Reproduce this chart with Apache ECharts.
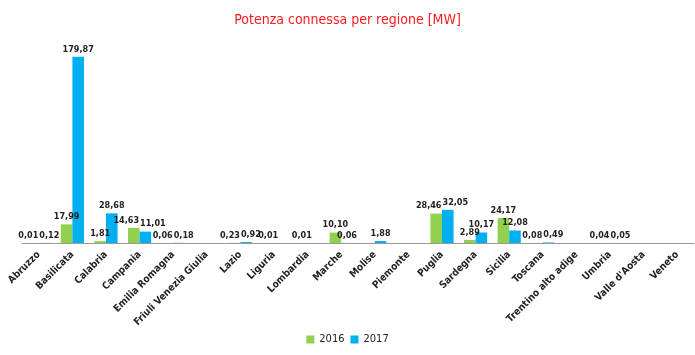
<!DOCTYPE html>
<html><head><meta charset="utf-8">
<script src="https://cdn.jsdelivr.net/npm/echarts@6/dist/echarts.min.js"></script>
<style>html,body{margin:0;padding:0;background:#fff}#c{width:695px;height:355px}</style>
</head><body><div id="c"></div>
<script>
var categories = ["Abruzzo","Basilicata","Calabria","Campania","Emilia Romagna","Friuli Venezia Giulia","Lazio","Liguria","Lombardia","Marche","Molise","Piemonte","Puglia","Sardegna","Sicilia","Toscana","Trentino alto adige","Umbria","Valle d'Aosta","Veneto"];
var values2016 = [0.01,17.99,1.81,14.63,0.06,null,0.23,0.01,0.01,10.10,null,null,28.46,2.89,24.17,0.08,null,0.04,null,null];
var values2017 = [0.12,179.87,28.68,11.01,0.18,null,0.92,null,null,0.06,1.88,null,32.05,10.17,12.08,0.49,null,0.05,null,null];
var seriesNames = ["2016","2017"];

var FONT = "'Liberation Sans Narrow','DejaVu Sans Condensed','Liberation Sans',sans-serif";
var GRID_TOP = 36, GRID_BOTTOM = 112, H = 355, YMAX = 200;
var pxPer = (H - GRID_TOP - GRID_BOTTOM) / YMAX;
function fmt(p){ return p.value == null ? '' : Number(p.value).toFixed(2).replace('.', ','); }
function makeLayout(si){
  return function(p){
    var i = p.dataIndex, a = values2016[i], b = values2017[i];
    if (a == null || b == null) return {};
    if (Math.abs(a - b) * pxPer >= 7) return {};
    var need = p.labelRect.width + 1 - p.rect.width;
    if (need <= 0) return {};
    return {dx: si === 0 ? -need / 2 : need / 2};
  };
}
var chart = echarts.init(document.getElementById('c'));
var lbl = {show: true, position: 'top', formatter: fmt, fontSize: 9, fontWeight: 'bold', color: '#222', distance: 3, fontFamily: FONT};
chart.setOption({
  animation: false,
  textStyle: {fontFamily: FONT},
  title: {text: 'Potenza connessa per regione [MW]', left: 'center', top: 8,
    textStyle: {color: '#ff1a1a', fontSize: 14, fontWeight: 'normal', fontFamily: FONT}},
  legend: {bottom: 5, left: 'center', itemWidth: 8, itemHeight: 8, icon: 'rect', itemGap: 6,
    textStyle: {fontSize: 11, color: '#222', fontFamily: FONT}, data: seriesNames},
  grid: {left: 22, right: 1, top: GRID_TOP, bottom: GRID_BOTTOM},
  xAxis: {type: 'category', data: categories,
    axisLine: {lineStyle: {color: '#999'}},
    axisTick: {length: 5, lineStyle: {color: '#999'}},
    axisLabel: {rotate: 45, fontSize: 10, fontWeight: 'bold', color: '#222', margin: 10, interval: 0, fontFamily: FONT}},
  yAxis: {type: 'value', min: 0, max: YMAX, show: false, splitLine: {show: false}},
  series: [
    {name: seriesNames[0], type: 'bar', data: values2016, barGap: '0%', barCategoryGap: '31%',
      itemStyle: {color: '#92d050'}, label: lbl, labelLayout: makeLayout(0)},
    {name: seriesNames[1], type: 'bar', data: values2017, barGap: '0%', barCategoryGap: '31%',
      itemStyle: {color: '#00b0f0'}, label: lbl, labelLayout: makeLayout(1)}
  ]
});
</script></body></html>
